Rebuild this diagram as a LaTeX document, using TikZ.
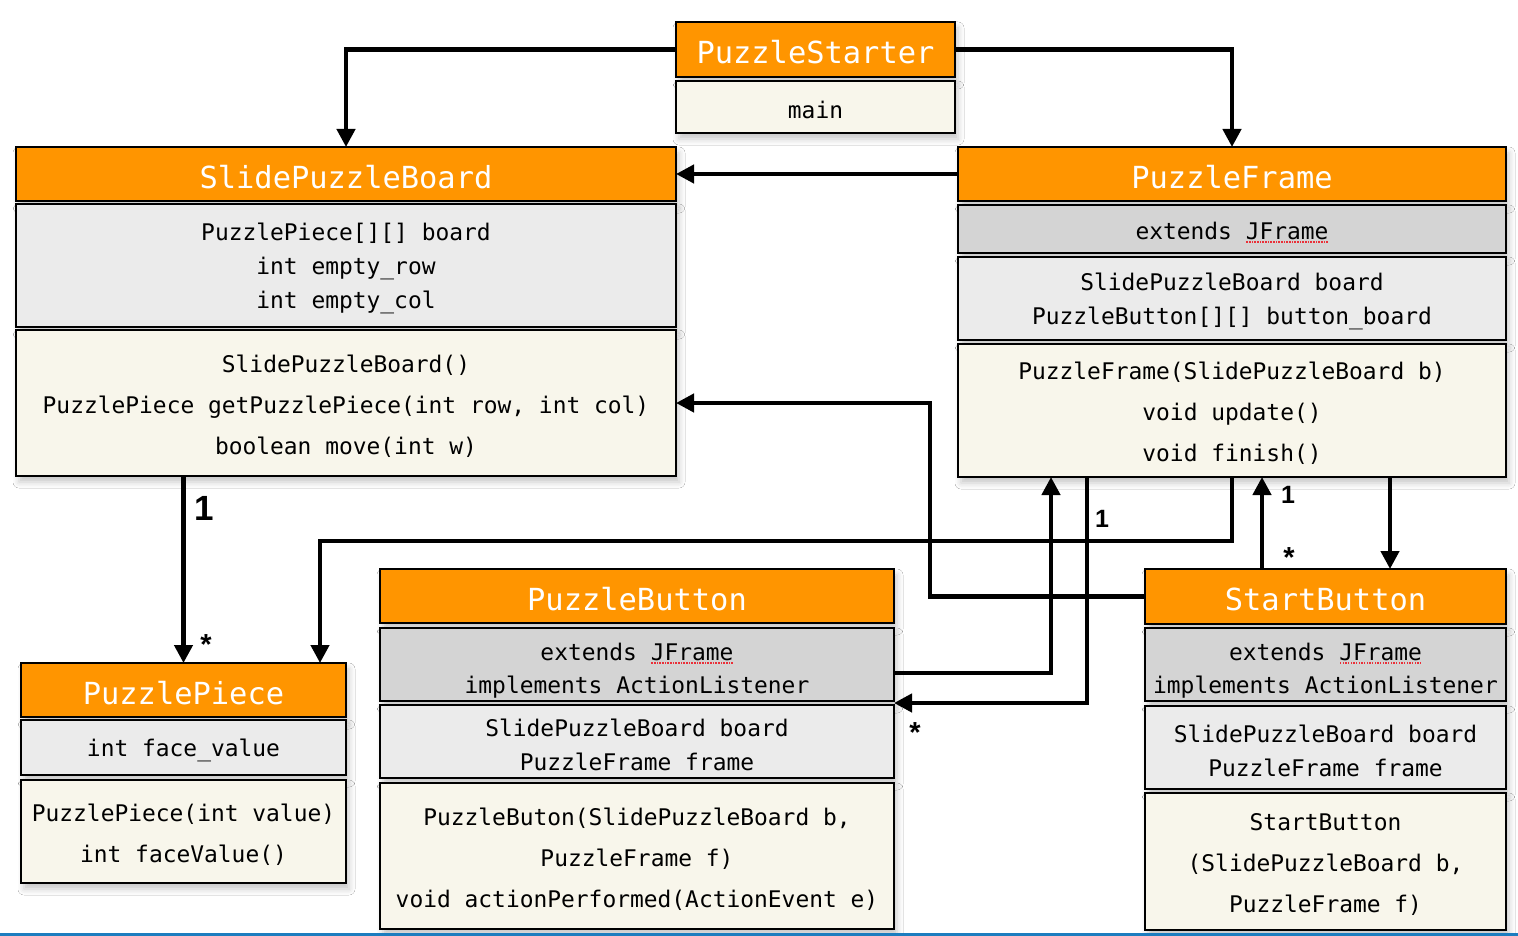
\documentclass[tikz,border=0pt]{standalone}
\usepackage{fontspec}
\setmonofont{DejaVu Sans Mono}
\newfontfamily\labelfont{Liberation Sans}
\usetikzlibrary{arrows.meta,shadows.blur}

\definecolor{umlorange}{HTML}{FF9500}
\definecolor{extgray}{HTML}{D4D4D4}
\definecolor{attrgray}{HTML}{EBEBEB}
\definecolor{methcream}{HTML}{F8F6EB}
\definecolor{spellred}{HTML}{EA2F38}
\definecolor{edgeblue}{HTML}{1C7DBF}

% red dotted spell-check mark under a word
\newsavebox\spellbox
\newcommand\misspelt[1]{\sbox\spellbox{#1}%
  \rlap{\color{spellred}\raisebox{-3.4pt}[0pt][0pt]{\hbox to\wd\spellbox{%
    \xleaders\hbox to 2.6pt{\hss\rule{1.5pt}{1.7pt}\hss}\hfill}}}%
  \usebox\spellbox}

% one compartment of a class box: #1 kind, #2 name, #3 x, #4 y, #5 width, #6 height, #7 text
\newcommand\umlcell[7]{%
  \node[#1box, minimum width=#5pt, minimum height=#6pt] (#2) at (#3,#4) {};
  \node[#1text] (#2-text) at (#2.center) {#7};}

\tikzset{
  cellbox/.style={draw=black, line width=1.3pt, anchor=north west,
    inner sep=0pt, outer sep=0pt,
    blur shadow={shadow xshift=3pt, shadow yshift=-6pt,
      shadow blur radius=6pt, shadow opacity=22}},
  titlebox/.style={cellbox, fill=umlorange},
  extbox/.style={cellbox, fill=extgray},
  ext2box/.style={extbox},
  attrbox/.style={cellbox, fill=attrgray},
  methbox/.style={cellbox, fill=methcream},
  celltext/.style={inner sep=0pt, align=center, yshift=-3pt,
    font=\ttfamily\fontsize{22.9}{34}\selectfont},
  titletext/.style={celltext, text=white,
    font=\ttfamily\fontsize{30.4}{36}\selectfont},
  exttext/.style={celltext, yshift=1pt},
  ext2text/.style={celltext, yshift=-3pt, font=\ttfamily\fontsize{22.9}{33}\selectfont},
  attrtext/.style={celltext},
  methtext/.style={celltext, font=\ttfamily\fontsize{22.9}{41}\selectfont},
  conn/.style={line width=4.3pt, -{Triangle[length=18pt,width=18pt]}},
  mult/.style={anchor=base, inner sep=0pt, font=\labelfont\bfseries\fontsize{25}{25}\selectfont},
  bigmult/.style={mult, font=\labelfont\bfseries\fontsize{35}{35}\selectfont},
  star/.style={mult, font=\labelfont\bfseries\fontsize{29}{29}\selectfont}
}

\begin{document}
\begin{tikzpicture}[x=1pt, y=-1pt]
\useasboundingbox (0,0) rectangle (1518,936);
\fill[white] (0,0) rectangle (1518,936);

% PuzzleStarter
\umlcell{title}{psT}{676}{22}{279}{55}{PuzzleStarter}
\umlcell{meth}{psM}{676}{81}{279}{52}{main}

% SlidePuzzleBoard
\umlcell{title}{sbT}{16}{147}{660}{54}{SlidePuzzleBoard}
\umlcell{attr}{sbA}{16}{204}{660}{123}{PuzzlePiece[][] board\\int empty\_row\\int empty\_col}
\umlcell{meth}{sbM}{16}{330}{660}{146}{SlidePuzzleBoard()\\PuzzlePiece getPuzzlePiece(int row, int col)\\boolean move(int w)}

% PuzzleFrame
\umlcell{title}{pfT}{958}{147}{548}{54}{PuzzleFrame}
\umlcell{ext}{pfE}{958}{205}{548}{48}{extends \misspelt{JFrame}}
\umlcell{attr}{pfA}{958}{257}{548}{83}{SlidePuzzleBoard board\\PuzzleButton[][] button\_board}
\umlcell{meth}{pfM}{958}{344}{548}{133}{PuzzleFrame(SlidePuzzleBoard b)\\void update()\\void finish()}

% PuzzlePiece
\umlcell{title}{ppT}{21}{663}{325}{54}{PuzzlePiece}
\umlcell{attr}{ppA}{21}{720}{325}{55}{int face\_value}
\umlcell{meth}{ppM}{21}{780}{325}{103}{PuzzlePiece(int value)\\int faceValue()}

% PuzzleButton
\umlcell{title}{pbT}{380}{569}{514}{54}{PuzzleButton}
\umlcell{ext2}{pbE}{380}{628}{514}{73}{extends \misspelt{JFrame}\\implements ActionListener}
\umlcell{attr}{pbA}{380}{705}{514}{73}{SlidePuzzleBoard board\\PuzzleFrame frame}
\umlcell{meth}{pbM}{380}{783}{514}{146}{PuzzleButon(SlidePuzzleBoard b,\\PuzzleFrame f)\\void actionPerformed(ActionEvent e)}

% StartButton
\umlcell{title}{stT}{1145}{569}{361}{55}{StartButton}
\umlcell{ext2}{stE}{1145}{628}{361}{73}{extends \misspelt{JFrame}\\implements ActionListener}
\umlcell{attr}{stA}{1145}{706}{361}{83}{SlidePuzzleBoard board\\PuzzleFrame frame}
\umlcell{meth}{stM}{1145}{793}{361}{137}{StartButton\\(SlidePuzzleBoard b,\\PuzzleFrame f)}

% connectors
\draw[conn] (psT.west) -| (sbT.north);
\draw[conn] (psT.east) -| (pfT.north);
\draw[conn] (pfT.west) -- (sbT.east);
\draw[conn] (sbM.south -| ppT.north) -- (ppT.north);
\draw[conn] (pfM.south) -- ++(0,64) -| ([xshift=-26pt]ppT.north east);
\draw[conn] (stT.west) -- ++(-215,0) |- (sbM.east);
\draw[conn] ([yshift=-8.5pt]pbE.east) -| ([xshift=93pt]pfM.south west);
\draw[conn] ([xshift=129pt]pfM.south west) |- ([yshift=2pt]pbA.north east);
\coordinate (upStart) at ([xshift=117pt]stT.north west);
\draw[conn] (upStart) -- (upStart |- pfM.south);
\coordinate (downStart) at ([xshift=245pt]stT.north west);
\draw[conn] (downStart |- pfM.south) -- (downStart);

% multiplicities
\node[bigmult] (m1) at (204.5,520) {1};
\node[star] (m2) at (206,654) {*};
\node[mult] (m3) at (1102,527) {1};
\node[star] (m4) at (915,742) {*};
\node[mult] (m5) at (1288,503) {1};
\node[star] (m6) at (1289,567) {*};

% window edge
\fill[edgeblue] (0,932.5) rectangle (1518,936);
\end{tikzpicture}
\end{document}
